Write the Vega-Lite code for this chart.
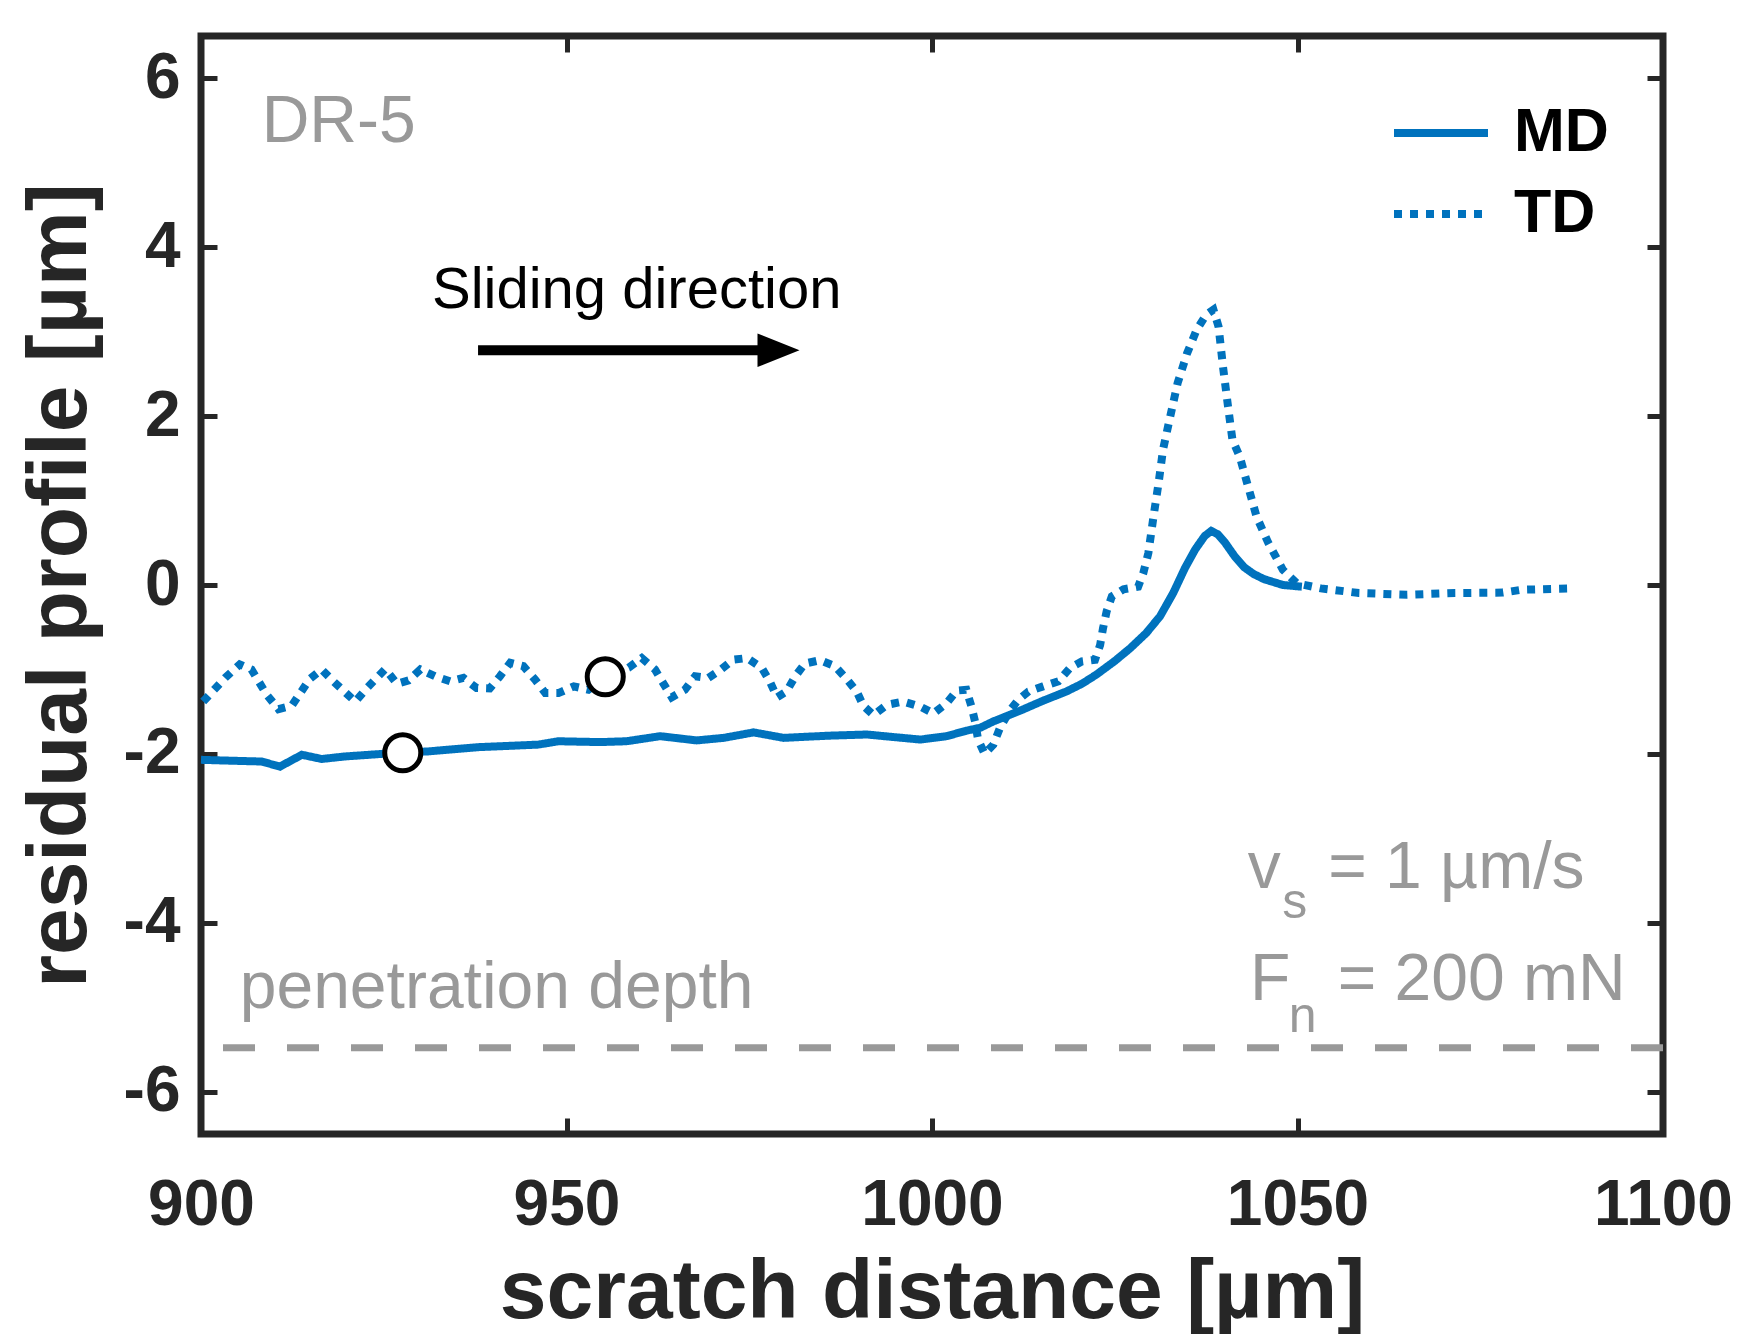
{
  "$schema": "https://vega.github.io/schema/vega-lite/v6.json",
  "width": 1462,
  "height": 1098,
  "autosize": "none",
  "padding": {"left": 201, "top": 36, "right": 81, "bottom": 200},
  "background": "white",
  "config": {
    "view": {"stroke": "#262626", "strokeWidth": 7},
    "font": "Liberation Sans",
    "axis": {"grid": false, "domain": false, "labelFlush": false, "labelOverlap": false, "labelBound": false}
  },
  "datasets": {
    "curves": [
      {"s": "MD", "x": 900, "y": -2.07}, {"s": "MD", "x": 904, "y": -2.08}, {"s": "MD", "x": 908.3, "y": -2.09},
      {"s": "MD", "x": 910.8, "y": -2.15}, {"s": "MD", "x": 913.8, "y": -2.01}, {"s": "MD", "x": 916.5, "y": -2.06},
      {"s": "MD", "x": 919.7, "y": -2.03}, {"s": "MD", "x": 924.7, "y": -2.0}, {"s": "MD", "x": 927.6, "y": -1.985},
      {"s": "MD", "x": 931.1, "y": -1.97}, {"s": "MD", "x": 937.9, "y": -1.92}, {"s": "MD", "x": 946.1, "y": -1.89},
      {"s": "MD", "x": 948.9, "y": -1.85}, {"s": "MD", "x": 954.6, "y": -1.86}, {"s": "MD", "x": 958.2, "y": -1.85},
      {"s": "MD", "x": 962.8, "y": -1.79}, {"s": "MD", "x": 967.8, "y": -1.84}, {"s": "MD", "x": 971.5, "y": -1.81},
      {"s": "MD", "x": 975.6, "y": -1.745}, {"s": "MD", "x": 979.7, "y": -1.81}, {"s": "MD", "x": 985.6, "y": -1.785},
      {"s": "MD", "x": 991.1, "y": -1.77}, {"s": "MD", "x": 994.7, "y": -1.8}, {"s": "MD", "x": 998.4, "y": -1.83},
      {"s": "MD", "x": 1002.0, "y": -1.79}, {"s": "MD", "x": 1004.7, "y": -1.725}, {"s": "MD", "x": 1006.6, "y": -1.69},
      {"s": "MD", "x": 1008.4, "y": -1.615}, {"s": "MD", "x": 1012.0, "y": -1.49}, {"s": "MD", "x": 1015.2, "y": -1.37},
      {"s": "MD", "x": 1018.4, "y": -1.26}, {"s": "MD", "x": 1020.5, "y": -1.17},
      {"s": "MD", "x": 1022.5, "y": -1.06}, {"s": "MD", "x": 1025.0, "y": -0.9}, {"s": "MD", "x": 1027.1, "y": -0.75},
      {"s": "MD", "x": 1029.3, "y": -0.57}, {"s": "MD", "x": 1031.2, "y": -0.37},
      {"s": "MD", "x": 1033.0, "y": -0.095}, {"s": "MD", "x": 1034.6, "y": 0.2}, {"s": "MD", "x": 1036.0, "y": 0.42},
      {"s": "MD", "x": 1037.3, "y": 0.58}, {"s": "MD", "x": 1038.2, "y": 0.64}, {"s": "MD", "x": 1039.1, "y": 0.6},
      {"s": "MD", "x": 1040.1, "y": 0.5}, {"s": "MD", "x": 1041.4, "y": 0.34}, {"s": "MD", "x": 1042.7, "y": 0.21},
      {"s": "MD", "x": 1044.0, "y": 0.13}, {"s": "MD", "x": 1045.4, "y": 0.07}, {"s": "MD", "x": 1048.0, "y": 0.0}, {"s": "MD", "x": 1050.6, "y": -0.02},
      {"s": "TD", "x": 900.3, "y": -1.38}, {"s": "TD", "x": 903.3, "y": -1.1}, {"s": "TD", "x": 905.3, "y": -0.94},
      {"s": "TD", "x": 906.9, "y": -1.0}, {"s": "TD", "x": 909.0, "y": -1.3}, {"s": "TD", "x": 910.6, "y": -1.47},
      {"s": "TD", "x": 912.4, "y": -1.43}, {"s": "TD", "x": 914.9, "y": -1.11}, {"s": "TD", "x": 916.5, "y": -1.0},
      {"s": "TD", "x": 918.1, "y": -1.14}, {"s": "TD", "x": 921.1, "y": -1.38}, {"s": "TD", "x": 922.7, "y": -1.22},
      {"s": "TD", "x": 925.2, "y": -0.995}, {"s": "TD", "x": 926.8, "y": -1.17}, {"s": "TD", "x": 928.4, "y": -1.13},
      {"s": "TD", "x": 930.0, "y": -1.0}, {"s": "TD", "x": 932.0, "y": -1.08}, {"s": "TD", "x": 934.1, "y": -1.14},
      {"s": "TD", "x": 935.9, "y": -1.1}, {"s": "TD", "x": 937.7, "y": -1.22}, {"s": "TD", "x": 939.5, "y": -1.225},
      {"s": "TD", "x": 940.9, "y": -1.08}, {"s": "TD", "x": 942.3, "y": -0.92}, {"s": "TD", "x": 944.1, "y": -0.96},
      {"s": "TD", "x": 945.7, "y": -1.12}, {"s": "TD", "x": 947.1, "y": -1.28}, {"s": "TD", "x": 948.9, "y": -1.28},
      {"s": "TD", "x": 951.0, "y": -1.2}, {"s": "TD", "x": 953.0, "y": -1.24}, {"s": "TD", "x": 955.3, "y": -1.09},
      {"s": "TD", "x": 958.5, "y": -0.98}, {"s": "TD", "x": 960.3, "y": -0.865}, {"s": "TD", "x": 962.1, "y": -1.0},
      {"s": "TD", "x": 964.4, "y": -1.33}, {"s": "TD", "x": 966.2, "y": -1.24}, {"s": "TD", "x": 967.6, "y": -1.08},
      {"s": "TD", "x": 969.4, "y": -1.1}, {"s": "TD", "x": 971.0, "y": -1.01}, {"s": "TD", "x": 972.8, "y": -0.885},
      {"s": "TD", "x": 974.7, "y": -0.865}, {"s": "TD", "x": 976.7, "y": -0.98}, {"s": "TD", "x": 977.8, "y": -1.14},
      {"s": "TD", "x": 978.8, "y": -1.33}, {"s": "TD", "x": 980.1, "y": -1.26}, {"s": "TD", "x": 981.3, "y": -1.08},
      {"s": "TD", "x": 982.6, "y": -0.93}, {"s": "TD", "x": 984.7, "y": -0.89}, {"s": "TD", "x": 986.7, "y": -0.96},
      {"s": "TD", "x": 988.3, "y": -1.11}, {"s": "TD", "x": 989.7, "y": -1.26}, {"s": "TD", "x": 990.6, "y": -1.43},
      {"s": "TD", "x": 992.0, "y": -1.54}, {"s": "TD", "x": 993.8, "y": -1.42}, {"s": "TD", "x": 996.1, "y": -1.38},
      {"s": "TD", "x": 998.4, "y": -1.44}, {"s": "TD", "x": 1000.2, "y": -1.52}, {"s": "TD", "x": 1002.0, "y": -1.4},
      {"s": "TD", "x": 1003.4, "y": -1.25}, {"s": "TD", "x": 1004.7, "y": -1.24}, {"s": "TD", "x": 1005.4, "y": -1.44},
      {"s": "TD", "x": 1005.9, "y": -1.62}, {"s": "TD", "x": 1006.3, "y": -1.83}, {"s": "TD", "x": 1007.2, "y": -2.0},
      {"s": "TD", "x": 1008.4, "y": -1.89}, {"s": "TD", "x": 1009.3, "y": -1.69}, {"s": "TD", "x": 1010.7, "y": -1.48},
      {"s": "TD", "x": 1011.8, "y": -1.36}, {"s": "TD", "x": 1013.2, "y": -1.26}, {"s": "TD", "x": 1015.2, "y": -1.2},
      {"s": "TD", "x": 1017.3, "y": -1.14}, {"s": "TD", "x": 1018.9, "y": -0.98}, {"s": "TD", "x": 1020.5, "y": -0.905},
      {"s": "TD", "x": 1022.3, "y": -0.885}, {"s": "TD", "x": 1023.0, "y": -0.71}, {"s": "TD", "x": 1023.4, "y": -0.51},
      {"s": "TD", "x": 1023.9, "y": -0.31}, {"s": "TD", "x": 1024.6, "y": -0.135}, {"s": "TD", "x": 1026.2, "y": -0.05},
      {"s": "TD", "x": 1028.2, "y": -0.02}, {"s": "TD", "x": 1028.9, "y": 0.14}, {"s": "TD", "x": 1029.6, "y": 0.38},
      {"s": "TD", "x": 1030.3, "y": 0.81}, {"s": "TD", "x": 1031.0, "y": 1.21}, {"s": "TD", "x": 1031.6, "y": 1.6},
      {"s": "TD", "x": 1032.6, "y": 2.0}, {"s": "TD", "x": 1033.6, "y": 2.39}, {"s": "TD", "x": 1034.9, "y": 2.745},
      {"s": "TD", "x": 1036.2, "y": 3.02}, {"s": "TD", "x": 1037.5, "y": 3.2}, {"s": "TD", "x": 1038.5, "y": 3.26},
      {"s": "TD", "x": 1039.2, "y": 3.06}, {"s": "TD", "x": 1039.8, "y": 2.59}, {"s": "TD", "x": 1040.5, "y": 2.11},
      {"s": "TD", "x": 1041.1, "y": 1.72}, {"s": "TD", "x": 1042.1, "y": 1.52}, {"s": "TD", "x": 1043.1, "y": 1.21},
      {"s": "TD", "x": 1044.4, "y": 0.81}, {"s": "TD", "x": 1046.0, "y": 0.5}, {"s": "TD", "x": 1048.0, "y": 0.18},
      {"s": "TD", "x": 1049.9, "y": 0.02}, {"s": "TD", "x": 1053.2, "y": -0.04}, {"s": "TD", "x": 1058.4, "y": -0.095},
      {"s": "TD", "x": 1065.0, "y": -0.115}, {"s": "TD", "x": 1071.5, "y": -0.095}, {"s": "TD", "x": 1078.1, "y": -0.09},
      {"s": "TD", "x": 1080.7, "y": -0.056}, {"s": "TD", "x": 1087.6, "y": -0.04}
    ],
    "circles": [{"x": 927.6, "y": -1.985}, {"x": 955.3, "y": -1.086}],
    "arrow": [{"x": 937.9, "x2": 979.5, "y": 2.78, "hx": 979.0}],
    "grayText": [
      {"x": 908.3, "y": 5.245, "t": "DR-5"},
      {"x": 905.3, "y": -5.003, "t": "penetration depth"},
      {"x": 1043.2, "y": -3.583, "t": "v"},
      {"x": 1054.2, "y": -3.583, "t": "= 1 µm/s"},
      {"x": 1043.5, "y": -4.908, "t": "F"},
      {"x": 1055.5, "y": -4.908, "t": "= 200 mN"}
    ],
    "subText": [
      {"x": 1047.9, "y": -3.938, "t": "s"},
      {"x": 1048.8, "y": -5.287, "t": "n"}
    ],
    "blackText": [{"x": 959.6, "y": 3.281, "t": "Sliding direction"}]
  },
  "layer": [
    {
      "data": {"values": [{"y": -5.48}]},
      "mark": {"type": "rule", "color": "#999999", "strokeWidth": 7, "strokeDash": [32, 32]},
      "encoding": {
        "y": {"field": "y", "type": "quantitative", "scale": {"domain": [-6.5, 6.5], "nice": false, "zero": false}, "axis": null}
      }
    },
    {
      "data": {"name": "curves"},
      "mark": {"type": "line", "color": "#0072BD", "strokeWidth": 8, "strokeCap": "butt"},
      "encoding": {
        "x": {"field": "x", "type": "quantitative", "scale": {"domain": [900, 1100], "nice": false, "zero": false},
          "axis": {"orient": "bottom", "values": [900, 950, 1000, 1050, 1100], "format": "d", "title": "scratch distance [µm]",
            "tickSize": -16, "tickWidth": 5, "tickColor": "#262626",
            "labelFontSize": 64, "labelFontWeight": "bold", "labelColor": "#262626", "labelPadding": 55,
            "titleFontSize": 84, "titleFontWeight": "bold", "titleColor": "#262626", "titlePadding": 14}},
        "y": {"field": "y", "type": "quantitative", "scale": {"domain": [-6.5, 6.5], "nice": false, "zero": false},
          "axis": {"orient": "left", "values": [-6, -4, -2, 0, 2, 4, 6], "title": "residual profile [µm]",
            "labelExpr": "replace(datum.label, '−', '-')",
            "tickSize": -16, "tickWidth": 5, "tickColor": "#262626",
            "labelFontSize": 64, "labelFontWeight": "bold", "labelColor": "#262626", "labelPadding": 37,
            "titleFontSize": 84, "titleFontWeight": "bold", "titleColor": "#262626", "titlePadding": 20}},
        "strokeDash": {"field": "s", "type": "nominal",
          "scale": {"domain": ["MD", "TD"], "range": [[1, 0], [8, 8]]},
          "legend": {"orient": "none", "legendX": 1189, "legendY": 46, "title": null, "symbolType": "stroke", "symbolSize": 8836,
            "symbolStrokeWidth": 8, "symbolStrokeColor": "#0072BD", "labelFontSize": 61, "labelFontWeight": "bold",
            "labelColor": "#000000", "labelOffset": 22, "rowPadding": -2, "padding": 0}}
      }
    },
    {
      "data": {"name": "circles"},
      "mark": {"type": "point", "shape": "circle", "size": 1300, "fill": "white", "stroke": "black", "strokeWidth": 5, "opacity": 1, "fillOpacity": 1},
      "encoding": {
        "x": {"field": "x", "type": "quantitative", "scale": {"domain": [900, 1100], "nice": false, "zero": false},
          "axis": {"orient": "top", "values": [900, 950, 1000, 1050, 1100], "title": null, "labels": false,
            "tickSize": -16, "tickWidth": 5, "tickColor": "#262626"}},
        "y": {"field": "y", "type": "quantitative", "scale": {"domain": [-6.5, 6.5], "nice": false, "zero": false},
          "axis": {"orient": "right", "values": [-6, -4, -2, 0, 2, 4, 6], "title": null, "labels": false,
            "tickSize": -16, "tickWidth": 5, "tickColor": "#262626"}}
      }
    },
    {
      "data": {"name": "arrow"},
      "mark": {"type": "rule", "color": "black", "strokeWidth": 10},
      "encoding": {
        "x": {"field": "x", "type": "quantitative", "axis": null},
        "x2": {"field": "x2"},
        "y": {"field": "y", "type": "quantitative", "axis": null}
      }
    },
    {
      "data": {"name": "arrow"},
      "mark": {"type": "point", "shape": "M -1,-0.8 L 1,0 L -1,0.8 Z", "size": 1764, "filled": true, "color": "black", "opacity": 1},
      "encoding": {
        "x": {"field": "hx", "type": "quantitative", "axis": null},
        "y": {"field": "y", "type": "quantitative", "axis": null}
      }
    },
    {
      "data": {"name": "grayText"},
      "mark": {"type": "text", "align": "left", "baseline": "alphabetic", "fontSize": 66, "color": "#999999", "font": "Liberation Sans"},
      "encoding": {
        "x": {"field": "x", "type": "quantitative", "axis": null},
        "y": {"field": "y", "type": "quantitative", "axis": null},
        "text": {"field": "t"}
      }
    },
    {
      "data": {"name": "subText"},
      "mark": {"type": "text", "align": "left", "baseline": "alphabetic", "fontSize": 50, "color": "#999999", "font": "Liberation Sans"},
      "encoding": {
        "x": {"field": "x", "type": "quantitative", "axis": null},
        "y": {"field": "y", "type": "quantitative", "axis": null},
        "text": {"field": "t"}
      }
    },
    {
      "data": {"name": "blackText"},
      "mark": {"type": "text", "align": "center", "baseline": "alphabetic", "fontSize": 58, "color": "black", "font": "Liberation Sans"},
      "encoding": {
        "x": {"field": "x", "type": "quantitative", "axis": null},
        "y": {"field": "y", "type": "quantitative", "axis": null},
        "text": {"field": "t"}
      }
    }
  ],
  "resolve": {"axis": {"x": "independent", "y": "independent"}}
}
